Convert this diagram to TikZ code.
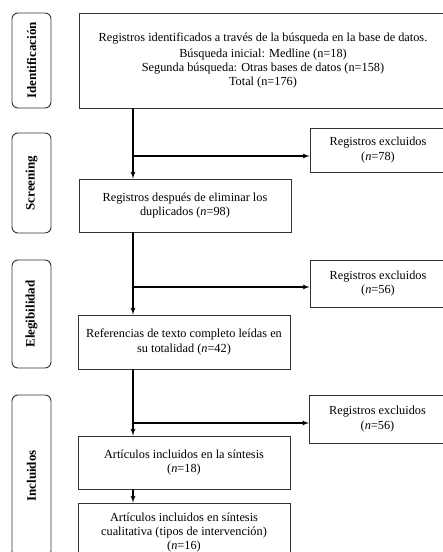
\documentclass[tikz,border=0pt]{standalone}
\usepackage{fontspec}
\setmainfont{Liberation Serif}
\usetikzlibrary{shapes,arrows}
\tikzstyle{block} = [draw=black!80, fill=white, rectangle, line width=0.9pt,
    align=center, inner sep=2pt, font=\fontsize{12.3}{14.3}\selectfont]
\tikzstyle{excl} = [block, minimum width=136pt]
\tikzstyle{phase} = [draw=black!80, rectangle, rounded corners=6pt, line width=0.9pt,
    rotate=90, minimum height=39pt, font=\fontsize{13}{15}\selectfont\bfseries]
\tikzstyle{flow} = [line width=1.3pt]

\begin{document}
\begin{tikzpicture}[x=1pt, y=-1pt, >=latex']
    % page frame, the boxes on the right and at the bottom run off it
    \useasboundingbox (0,0) rectangle (443,552);
    \clip (0,0) rectangle (443,552);

    % phases on the left
    \node [phase, minimum width=95pt] (ident) at (31.5,60.5) {Identificación};
    \node [phase, minimum width=100pt] (screen) at (31.5,183) {Screening};
    \node [phase, minimum width=108pt] (eleg) at (31.5,314) {Elegibilidad};
    \node [phase, minimum width=162pt] (incl) at (31.5,476) {Incluidos};

    % main column
    \node [block, minimum width=368pt, minimum height=95pt] (ids) at (263,60.5)
        {Registros identificados a través de la búsqueda en la base de datos.\\[2pt]
         Búsqueda inicial: Medline (n=18)\\
         Segunda búsqueda: Otras bases de datos (n=158)\\
         Total (n=176)};
    \node [block, minimum width=212pt, minimum height=53pt] (dup) at (185,205.5)
        {Registros después de eliminar los\\duplicados (\textit{n}=98)};
    \node [block, minimum width=212pt, minimum height=54pt] (full) at (184,342)
        {Referencias de texto completo leídas en\\su totalidad (\textit{n}=42)};
    \node [block, minimum width=212pt, minimum height=53pt] (synth) at (184,462.5)
        {Artículos incluidos en la síntesis\\(\textit{n}=18)};
    \node [block, minimum width=212pt, minimum height=59pt] (qual) at (184,532.5)
        {Artículos incluidos en síntesis\\cualitativa (tipos de intervención)\\(\textit{n}=16)};

    % excluded records
    \node [excl, minimum height=44pt] (ex1) at (378,150)
        {Registros excluidos\\(\textit{n}=78)};
    \node [excl, minimum height=47pt] (ex2) at (378,283.5)
        {Registros excluidos\\(\textit{n}=56)};
    \node [excl, minimum height=48pt] (ex3) at (377.5,419)
        {Registros excluidos\\(\textit{n}=56)};

    % the trunk runs at x=133, the branches leave it here
    \coordinate (trunk) at (133,0);
    \coordinate (b1) at (133,156);
    \coordinate (b2) at (133,287);
    \coordinate (b3) at (133,423);

    \draw [flow,->] (ids.south -| trunk) -- (dup.north -| trunk);
    \draw [flow,->] (b1) -- (ex1.west |- b1);
    \draw [flow,->] (dup.south -| trunk) -- (full.north -| trunk);
    \draw [flow,->] (b2) -- (ex2.west |- b2);
    \draw [flow,->] (full.south -| trunk) -- (synth.north -| trunk);
    \draw [flow,->] (b3) -- (ex3.west |- b3);
    \draw [flow,->] (synth.south -| trunk) -- (qual.north -| trunk);
\end{tikzpicture}
\end{document}
